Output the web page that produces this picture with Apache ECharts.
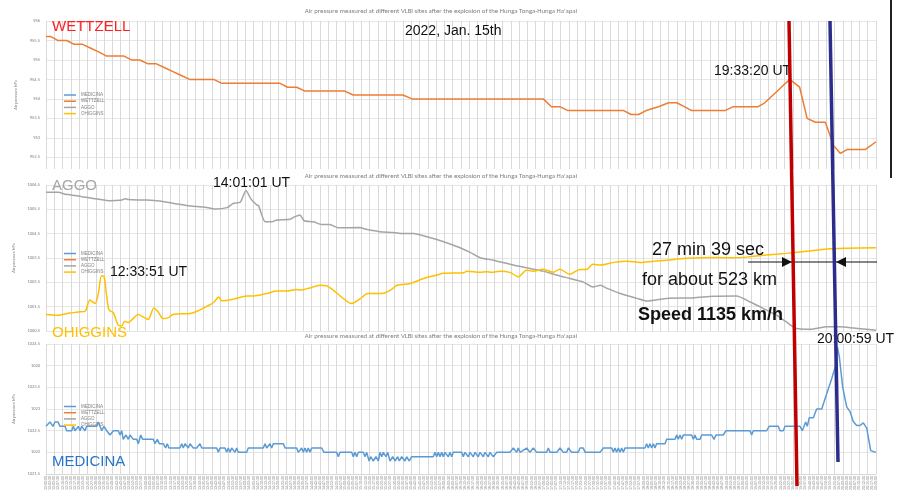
<!DOCTYPE html>
<html>
<head>
<meta charset="utf-8">
<title>Air pressure at VLBI sites</title>
<script src="https://cdn.jsdelivr.net/npm/echarts@6/dist/echarts.min.js"></script>
<style>
html, body { margin: 0; padding: 0; background: #fff; }
#chart { width: 898px; height: 493px; }
</style>
</head>
<body>
<div id="chart"></div>
<script>
// stations, in legend order
const stations = ['MEDICINA', 'WETTZELL', 'AGGO', 'OHIGGINS']
const lineColors = ['#5b9bd5', '#ed7d31', '#a5a5a5', '#ffc000']

// x = sample index (0..100), y = air pressure in hPa
const wettzell = [
  [0, 955.6], [0.6, 955.6], [1.4, 955.5], [2.5, 955.5], [3.4, 955.4], [4.4, 955.4],
  [5.4, 955.3], [6.4, 955.2], [7.3, 955.1], [9.4, 955.1], [10.3, 955.0], [11.3, 955.0],
  [12.3, 954.9], [13.3, 954.9], [14.3, 954.8], [15.3, 954.7], [16.3, 954.6], [17.3, 954.5],
  [20.2, 954.5], [21.2, 954.4], [28.2, 954.4], [29.1, 954.3], [30.2, 954.3], [31.2, 954.2],
  [36.0, 954.2], [37.0, 954.1], [43.0, 954.1], [44.1, 954.0], [59.9, 954.0], [60.9, 953.8],
  [61.9, 953.8], [62.9, 953.7], [69.6, 953.7], [70.5, 953.6], [71.4, 953.6], [72.3, 953.7],
  [73.8, 953.8], [75.0, 953.9], [76.0, 953.9], [76.9, 953.8], [77.8, 953.7], [81.8, 953.7],
  [82.8, 953.8], [85.8, 953.8], [86.6, 953.9], [87.6, 954.1], [88.6, 954.3], [89.6, 954.5],
  [90.8, 954.3], [91.7, 953.5], [92.7, 953.4], [93.9, 953.4], [94.9, 952.8], [95.7, 952.6],
  [96.5, 952.7], [98.7, 952.7], [100, 952.9]
]

const aggo = [
  [0, 1006.2], [1.5, 1006.2], [2.3, 1006.12], [2.9, 1006.1], [4.3, 1006.02], [5.7, 1005.95],
  [7.7, 1005.85], [8.9, 1005.87], [9.6, 1005.93], [9.9, 1005.9], [12.1, 1005.88], [13.7, 1005.84],
  [15.3, 1005.75], [17.4, 1005.64], [19.0, 1005.6], [20.4, 1005.51], [21.8, 1005.57], [22.6, 1005.75],
  [23.4, 1005.79], [24.1, 1006.27], [24.7, 1005.92], [25.4, 1005.68], [25.6, 1005.66], [26.4, 1004.99],
  [27.2, 1004.99], [27.8, 1005.06], [29.4, 1005.09], [30.0, 1005.2], [30.6, 1005.27], [31.1, 1005.03],
  [32.2, 1004.99], [33.2, 1004.88], [34.2, 1004.88], [35.2, 1004.74], [37.8, 1004.75], [38.6, 1004.68],
  [40.2, 1004.58], [41.8, 1004.55], [42.7, 1004.51], [44.3, 1004.51], [45.9, 1004.37], [47.9, 1004.17],
  [49.9, 1003.92], [51.1, 1003.73], [52.3, 1003.51], [53.9, 1003.41], [56.3, 1003.21], [58.3, 1003.07],
  [59.9, 1002.96], [61.5, 1002.8], [63.1, 1002.66], [64.7, 1002.52], [65.9, 1002.31], [66.8, 1002.38],
  [67.6, 1002.25], [69.2, 1002.04], [71.2, 1001.84], [72.4, 1001.73], [74.8, 1001.84], [78.0, 1001.86],
  [80.4, 1001.93], [83.2, 1001.94], [84.8, 1001.7], [86.4, 1001.43], [88.0, 1001.15], [89.2, 1000.87],
  [90.4, 1000.6], [92.1, 1000.57], [94.1, 1000.67], [95.7, 1000.67], [97.3, 1000.62], [98.9, 1000.57],
  [100, 1000.53]
]

const ohiggins = [
  [0, 1001.18], [1.3, 1001.15], [2.9, 1001.24], [4.1, 1001.29], [4.7, 1001.31], [5.3, 1001.77],
  [5.9, 1001.63], [6.3, 1002.04], [6.7, 1002.77], [7.0, 1002.73], [7.3, 1001.97], [7.6, 1001.36],
  [8.1, 1001.26], [8.7, 1000.74], [9.1, 1000.71], [9.5, 1000.9], [9.9, 1000.85], [10.5, 1001.01],
  [11.1, 1001.18], [11.7, 1001.08], [12.3, 1000.97], [13.0, 1001.45], [13.5, 1001.29], [14.1, 1001.01],
  [14.7, 1001.04], [15.3, 1001.18], [17.4, 1001.22], [18.2, 1001.31], [19.4, 1001.52], [20.2, 1001.67],
  [20.8, 1001.9], [21.2, 1001.74], [22.6, 1001.81], [24.2, 1001.94], [25.0, 1001.94], [26.6, 1002.04],
  [27.8, 1002.14], [29.0, 1002.14], [30.2, 1002.21], [30.6, 1002.18], [31.8, 1002.27], [33.0, 1002.38],
  [33.8, 1002.36], [34.6, 1002.18], [35.8, 1001.84], [36.8, 1001.63], [37.8, 1001.81], [38.8, 1002.04],
  [40.5, 1002.04], [41.5, 1002.18], [42.3, 1002.38], [43.9, 1002.45], [45.5, 1002.66], [47.1, 1002.8],
  [47.9, 1002.87], [50.3, 1002.89], [50.7, 1002.96], [52.3, 1002.91], [53.1, 1002.94], [53.7, 1002.91],
  [54.7, 1002.96], [55.9, 1002.91], [56.9, 1002.73], [57.9, 1003.0], [58.7, 1002.96], [59.9, 1003.04],
  [61.1, 1002.91], [61.9, 1003.04], [63.1, 1002.83], [64.3, 1003.03], [65.1, 1003.03], [65.9, 1003.24],
  [66.8, 1003.21], [68.4, 1003.32], [70.0, 1003.37], [71.6, 1003.32], [73.2, 1003.37], [74.8, 1003.41],
  [76.8, 1003.48], [78.8, 1003.51], [80.8, 1003.52], [82.8, 1003.51], [84.8, 1003.55], [86.8, 1003.62],
  [89.2, 1003.69], [91.7, 1003.78], [94.1, 1003.87], [96.5, 1003.9], [100, 1003.92]
]

const medicina = [
  [0, 1022.6], [0.24, 1022.6], [0.48, 1022.7], [0.84, 1022.6], [1.08, 1022.7], [1.45, 1022.7],
  [1.69, 1022.6], [2.29, 1022.6], [2.49, 1022.5], [3.1, 1022.5], [3.29, 1022.6], [3.49, 1022.5],
  [3.89, 1022.6], [4.1, 1022.5], [4.3, 1022.6], [4.7, 1022.5], [4.9, 1022.6], [6.11, 1022.6],
  [6.3, 1022.7], [6.51, 1022.6], [6.71, 1022.5], [6.99, 1022.6], [7.31, 1022.5], [7.71, 1022.4],
  [8.11, 1022.5], [8.71, 1022.5], [8.92, 1022.4], [9.12, 1022.5], [9.31, 1022.3], [9.64, 1022.4],
  [9.92, 1022.3], [10.12, 1022.4], [10.52, 1022.3], [10.93, 1022.3], [11.12, 1022.2], [11.41, 1022.4],
  [11.65, 1022.3], [12.93, 1022.3], [13.13, 1022.2], [13.41, 1022.3], [13.65, 1022.2], [14.13, 1022.2],
  [14.42, 1022.1], [14.61, 1022.2], [14.82, 1022.1], [16.14, 1022.1], [16.35, 1022.2], [16.54, 1022.1],
  [16.75, 1022.2], [17.14, 1022.1], [17.35, 1022.2], [17.75, 1022.1], [18.16, 1022.1], [18.55, 1022.2],
  [18.76, 1022.1], [20.57, 1022.1], [20.76, 1022.0], [20.96, 1022.1], [21.57, 1022.1], [21.77, 1022.0],
  [21.96, 1022.1], [22.17, 1022.0], [22.37, 1022.1], [22.77, 1022.0], [22.97, 1022.1], [23.17, 1022.0],
  [24.18, 1022.0], [24.37, 1022.1], [26.18, 1022.1], [26.39, 1022.2], [26.59, 1022.1], [26.99, 1022.2],
  [27.19, 1022.1], [27.39, 1022.2], [28.59, 1022.2], [28.8, 1022.1], [30.2, 1022.1], [30.4, 1022.0],
  [30.8, 1022.1], [31.0, 1022.0], [31.2, 1022.1], [31.41, 1022.0], [31.6, 1022.1], [31.81, 1022.0],
  [32.01, 1022.1], [33.22, 1022.1], [33.49, 1022.0], [35.02, 1022.0], [35.22, 1021.9], [35.42, 1022.0],
  [36.83, 1022.0], [37.02, 1021.9], [37.23, 1022.0], [37.43, 1021.9], [37.63, 1022.0], [38.23, 1022.0],
  [38.43, 1021.9], [38.64, 1022.0], [38.92, 1021.8], [39.12, 1021.9], [39.43, 1021.8], [39.76, 1021.9],
  [40.04, 1021.8], [40.24, 1022.0], [40.45, 1021.9], [40.64, 1022.0], [40.96, 1021.9], [41.17, 1022.0],
  [41.45, 1021.8], [41.77, 1021.9], [42.05, 1021.8], [42.37, 1021.9], [42.57, 1021.8], [42.85, 1021.9],
  [43.25, 1021.8], [43.46, 1021.9], [43.77, 1021.8], [44.06, 1021.9], [46.66, 1021.9], [46.87, 1022.0],
  [47.07, 1021.9], [47.27, 1022.0], [47.47, 1021.9], [47.67, 1022.0], [47.87, 1021.9], [48.07, 1022.0],
  [48.47, 1021.9], [48.67, 1022.0], [48.88, 1021.9], [49.07, 1022.0], [50.08, 1022.0], [50.28, 1021.9],
  [50.48, 1022.0], [50.88, 1021.9], [51.08, 1022.0], [51.48, 1021.9], [51.69, 1022.0], [52.08, 1021.9],
  [52.29, 1022.0], [52.69, 1021.9], [52.89, 1022.0], [53.29, 1021.9], [53.49, 1022.0], [53.89, 1021.9],
  [54.3, 1022.0], [55.9, 1022.0], [56.3, 1022.1], [56.71, 1022.0], [56.9, 1022.1], [57.11, 1022.0],
  [57.91, 1022.1], [58.31, 1022.0], [58.71, 1022.1], [59.12, 1022.0], [60.32, 1022.0], [60.52, 1022.1],
  [60.72, 1022.0], [61.53, 1022.0], [61.93, 1022.1], [62.33, 1022.0], [62.73, 1022.0], [62.93, 1022.1],
  [63.34, 1022.0], [64.13, 1022.0], [64.34, 1022.1], [64.73, 1022.1], [64.94, 1022.0], [66.75, 1022.0],
  [67.15, 1022.1], [68.16, 1022.1], [68.35, 1022.0], [68.55, 1022.1], [68.75, 1022.0], [68.95, 1022.1],
  [69.16, 1022.0], [69.36, 1022.1], [69.56, 1022.0], [69.76, 1022.1], [72.17, 1022.1], [72.37, 1022.2],
  [72.56, 1022.1], [72.77, 1022.2], [72.97, 1022.1], [73.17, 1022.2], [73.37, 1022.1], [73.57, 1022.2],
  [74.58, 1022.2], [74.78, 1022.3], [75.78, 1022.3], [75.99, 1022.4], [76.18, 1022.3], [76.39, 1022.4],
  [76.59, 1022.3], [76.78, 1022.4], [77.79, 1022.4], [77.99, 1022.3], [78.19, 1022.4], [78.39, 1022.3],
  [78.8, 1022.3], [79.0, 1022.4], [80.2, 1022.4], [80.48, 1022.3], [80.72, 1022.4], [81.6, 1022.4],
  [81.93, 1022.5], [84.82, 1022.5], [85.02, 1022.4], [85.22, 1022.5], [86.83, 1022.5], [87.14, 1022.6],
  [88.23, 1022.6], [88.43, 1022.5], [88.83, 1022.5], [89.04, 1022.6], [90.84, 1022.6], [91.12, 1022.5],
  [91.33, 1022.6], [91.53, 1022.7], [91.72, 1022.6], [91.96, 1022.8], [92.45, 1022.8], [92.85, 1023.0],
  [93.46, 1023.0], [94.06, 1023.35], [94.66, 1023.7], [94.85, 1023.7], [95.18, 1024.03], [95.34, 1024.44],
  [95.58, 1024.21], [95.99, 1023.5], [96.47, 1023.05], [96.87, 1022.94], [97.26, 1022.71], [97.67, 1022.62],
  [98.07, 1022.62], [98.47, 1022.68], [98.88, 1022.56], [99.36, 1022.04], [100, 1022.0]
]

// y axis tick labels per panel
const wettzellTicks = [952.5, 953, 953.5, 954, 954.5, 955, 955.5, 956]
const aggoTicks = [1000.5, 1001.5, 1002.5, 1003.5, 1004.5, 1005.5, 1006.5]
const medicinaTicks = [1021.5, 1022, 1022.5, 1023, 1023.5, 1024, 1024.5]

const chartTitle = 'Air pressure measured at different VLBI sites after the explosion of the Hunga Tonga-Hunga Ha\'apai'
const FONT = 'Arial, "Liberation Sans", sans-serif'
const SMALL = { fontSize: 4.5, color: '#808080', fontFamily: 'Calibri, Carlito, "Open Sans", sans-serif' }

const comma = v => String(v).replace('.', ',')

// x label: index -> time of day (start 12:00:00, 5 min per unit)
const timeLabel = u => {
  const s = Math.round(12 * 3600 + u * 300)
  const p = n => String(n).padStart(2, '0')
  return p(Math.floor(s / 3600)) + ':' + p(Math.floor(s / 60) % 60) + ':' + p(s % 60)
}

const grids = [
  { left: 46, right: 22, top: 21, height: 148 },
  { left: 46, right: 22, top: 185, height: 146 },
  { left: 46, right: 22, top: 344, height: 133 }
]

const gridX = i => ({
  type: 'value', gridIndex: i, position: 'bottom', min: 0, max: 100, interval: 1,
  axisLine: { show: false }, axisTick: { show: false }, axisLabel: { show: false },
  splitLine: { show: true, lineStyle: { color: '#d9d9d9', width: 1 } }
})

const yBase = {
  type: 'value',
  name: 'Air pressure hPa', nameLocation: 'middle', nameRotate: 90, nameGap: 25,
  nameTextStyle: SMALL,
  axisLine: { show: false },
  axisTick: { show: false },
  splitLine: { show: true, lineStyle: { color: '#e6e6e6', width: 1 } }
}

const option = {
  animation: false,
  backgroundColor: '#fff',
  grid: grids,
  xAxis: [
    gridX(0), gridX(1), gridX(2),
    {
      type: 'value', gridIndex: 2, position: 'bottom', min: 0, max: 100, interval: 0.5,
      axisLine: { show: true, lineStyle: { color: '#d9d9d9' } },
      axisTick: { show: false }, splitLine: { show: false },
      axisLabel: { rotate: 90, fontSize: 3.6, color: '#808080', margin: 2, formatter: timeLabel }
    }
  ],
  yAxis: [
    Object.assign({}, yBase, {
      gridIndex: 0, min: 952.2, max: 956,
      axisTick: { show: false, customValues: wettzellTicks },
      axisLabel: Object.assign({ margin: 6, customValues: wettzellTicks, formatter: comma }, SMALL)
    }),
    Object.assign({}, yBase, {
      gridIndex: 1, min: aggoTicks[0], max: 1006.5, interval: 1,
      axisLabel: Object.assign({ margin: 6, formatter: comma }, SMALL)
    }),
    Object.assign({}, yBase, {
      gridIndex: 2, min: medicinaTicks[0], max: 1024.5, interval: 0.5,
      axisLabel: Object.assign({ margin: 6, formatter: comma }, SMALL)
    })
  ],
  legend: [92.5, 251, 404].map(top => ({
    top: top, left: 64, orient: 'vertical', data: stations,
    icon: 'rect', itemWidth: 12, itemHeight: 1.5, itemGap: 1.2,
    selectedMode: false, padding: 0,
    textStyle: { fontSize: 4.5, color: '#808080', lineHeight: 4.5 }
  })),
  series: [
    { name: 'MEDICINA', data: medicina, xAxisIndex: 2, yAxisIndex: 2, color: lineColors[0] },
    { name: 'WETTZELL', data: wettzell, xAxisIndex: 0, yAxisIndex: 0, color: lineColors[1] },
    { name: 'AGGO', data: aggo, xAxisIndex: 1, yAxisIndex: 1, color: lineColors[2], smooth: 0.2 },
    { name: 'OHIGGINS', data: ohiggins, xAxisIndex: 1, yAxisIndex: 1, color: lineColors[3], smooth: 0.3 }
  ].map(s => Object.assign({
    type: 'line', showSymbol: false, symbol: 'none',
    lineStyle: { width: 1.5 }, clip: true
  }, s)),
  graphic: [
    // panel titles
    ...[11, 176, 336].map(y => ({
      type: 'text', x: 441, y: y, z: 50,
      style: { text: chartTitle, fill: '#7f7f7f', font: '6.8px Calibri, Carlito, "Open Sans", sans-serif', textAlign: 'center', textVerticalAlign: 'middle' }
    })),
    // station labels
    { type: 'text', x: 52, y: 27, z: 50, style: { text: 'WETTZELL', fill: '#ff1f1f', font: '15px ' + FONT, textVerticalAlign: 'middle' } },
    { type: 'text', x: 52, y: 185.5, z: 50, style: { text: 'AGGO', fill: '#a6a6a6', font: '15px ' + FONT, textVerticalAlign: 'middle' } },
    { type: 'text', x: 52, y: 332.5, z: 50, style: { text: 'OHIGGINS', fill: '#ffc000', font: '15px ' + FONT, textVerticalAlign: 'middle' } },
    { type: 'text', x: 52, y: 461.5, z: 50, style: { text: 'MEDICINA', fill: '#2874c8', font: '15px ' + FONT, textVerticalAlign: 'middle' } },
    // date and peak times
    { type: 'text', x: 405, y: 31.5, z: 50, style: { text: '2022, Jan. 15th', fill: '#111', font: '14px ' + FONT, textVerticalAlign: 'middle' } },
    { type: 'text', x: 714, y: 71.5, z: 50, style: { text: '19:33:20 UT', fill: '#111', font: '14px ' + FONT, textVerticalAlign: 'middle' } },
    { type: 'text', x: 213, y: 183.5, z: 50, style: { text: '14:01:01 UT', fill: '#111', font: '14px ' + FONT, textVerticalAlign: 'middle' } },
    { type: 'text', x: 110, y: 272, z: 50, style: { text: '12:33:51 UT', fill: '#111', font: '14px ' + FONT, textVerticalAlign: 'middle' } },
    { type: 'text', x: 817, y: 339.5, z: 50, style: { text: '20:00:59 UT', fill: '#111', font: '14px ' + FONT, textVerticalAlign: 'middle' } },
    // travel time annotation
    { type: 'text', x: 652, y: 250.5, z: 50, style: { text: '27 min 39 sec', fill: '#111', font: '18px ' + FONT, textVerticalAlign: 'middle' } },
    { type: 'text', x: 642, y: 280, z: 50, style: { text: 'for about 523 km', fill: '#111', font: '18px ' + FONT, textVerticalAlign: 'middle' } },
    { type: 'text', x: 638, y: 315.5, z: 50, style: { text: 'Speed 1135 km/h', fill: '#111', font: 'bold 18px ' + FONT, textVerticalAlign: 'middle' } },
    { type: 'line', z: 60, shape: { x1: 748, y1: 262, x2: 877, y2: 262 }, style: { stroke: '#111', lineWidth: 1.2 } },
    { type: 'polygon', z: 61, shape: { points: [[782, 257], [792, 262], [782, 267]] }, style: { fill: '#111' } },
    { type: 'polygon', z: 61, shape: { points: [[846, 257], [836, 262], [846, 267]] }, style: { fill: '#111' } },
    // arrival lines
    { type: 'line', z: 70, shape: { x1: 789, y1: 21, x2: 797, y2: 486 }, style: { stroke: '#c00000', lineWidth: 3.5 } },
    { type: 'line', z: 70, shape: { x1: 830, y1: 21, x2: 838, y2: 462 }, style: { stroke: '#2b2d8c', lineWidth: 3.5 } },
    // right border of the top panel
    { type: 'line', z: 70, shape: { x1: 891, y1: 0, x2: 891, y2: 178 }, style: { stroke: '#222', lineWidth: 2 } }
  ]
}

const chart = echarts.init(document.getElementById('chart'))
chart.setOption(option)
window.addEventListener('resize', () => chart.resize())
</script>
</body>
</html>
